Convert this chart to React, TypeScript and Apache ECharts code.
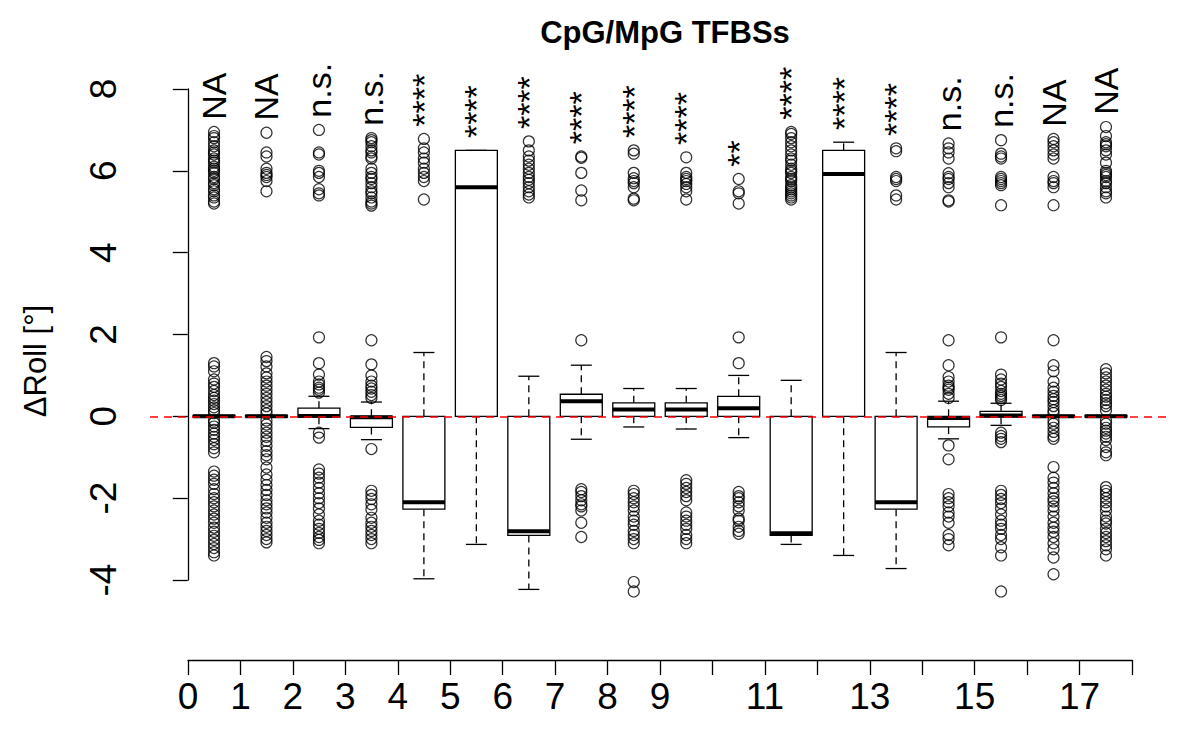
import React, { useEffect, useRef } from "react";
import * as echarts from "echarts";

// ---- data ----
const positions = [0.5, 1.5, 2.5, 3.5, 4.5, 5.5, 6.5, 7.5, 8.5, 9.5, 10.5, 11.5, 12.5, 13.5, 14.5, 15.5, 16.5, 17.5];
// [lower whisker, Q1, median, Q3, upper whisker]
const boxStats = [
  [-0.02, -0.02, 0, 0.02, 0.02],
  [-0.02, -0.02, 0, 0.02, 0.02],
  [-0.3, -0.02, 0.01, 0.2, 0.49],
  [-0.57, -0.27, -0.02, 0, 0.35],
  [-3.97, -2.27, -2.1, 0, 1.56],
  [-3.13, 0, 5.6, 6.5, 6.5],
  [-4.23, -2.91, -2.81, 0, 0.98],
  [-0.56, 0, 0.37, 0.54, 1.25],
  [-0.26, 0, 0.17, 0.33, 0.68],
  [-0.31, 0, 0.17, 0.33, 0.68],
  [-0.52, 0, 0.2, 0.49, 1.0],
  [-3.13, -2.91, -2.86, 0, 0.88],
  [-3.4, 0, 5.92, 6.5, 6.7],
  [-3.72, -2.27, -2.1, 0, 1.56],
  [-0.55, -0.26, -0.04, 0, 0.37],
  [-0.22, -0.02, 0.02, 0.12, 0.32],
  [-0.02, -0.02, 0, 0.02, 0.02],
  [-0.02, -0.02, 0, 0.02, 0.02],
];
const outliers = [
  [6.95, 6.85, 6.8, 6.7, 6.6, 6.5, 6.45, 6.4, 6.3, 6.25, 6.2, 6.1, 6.05, 6.0, 5.95, 5.85, 5.8, 5.7, 5.65, 5.55, 5.5, 5.4, 5.35, 5.25, 5.2,
    1.3, 1.22, 1.1, 0.9, 0.8, 0.72, 0.62, 0.52, 0.45, 0.38, 0.3, 0.22, 0.15, 0.08, -0.1, -0.16, -0.25, -0.33, -0.42, -0.5, -0.58, -0.68, -0.78, -0.88,
    -1.35, -1.45, -1.55, -1.65, -1.78, -1.9, -2.0, -2.1, -2.2, -2.3, -2.4, -2.5, -2.6, -2.72, -2.82, -2.92, -3.02, -3.12, -3.22, -3.32, -3.4],
  [6.93, 6.45, 6.35, 6.05, 5.95, 5.9, 5.85, 5.75, 5.5,
    1.45, 1.35, 1.22, 1.05, 0.95, 0.85, 0.75, 0.65, 0.55, 0.45, 0.35, 0.25, 0.15, 0.07, -0.1, -0.2, -0.3, -0.4, -0.5, -0.6, -0.72, -0.85, -0.95, -1.05,
    -1.25, -1.42, -1.55, -1.68, -1.8, -1.92, -2.05, -2.15, -2.25, -2.35, -2.48, -2.6, -2.7, -2.8, -2.9, -3.0, -3.08],
  [7.0, 6.45, 6.4, 6.0, 5.95, 5.85, 5.55, 5.45, 5.4, 1.93, 1.3, 1.02, 0.85, 0.78, 0.7, 0.65, 0.58, -0.4, -0.52,
    -1.3, -1.4, -1.5, -1.62, -1.75, -1.88, -2.0, -2.12, -2.25, -2.4, -2.55, -2.65, -2.75, -2.85, -2.95, -3.02, -3.1],
  [6.8, 6.75, 6.7, 6.6, 6.5, 6.45, 6.35, 6.3, 6.05, 5.95, 5.85, 5.8, 5.7, 5.6, 5.5, 5.45, 5.35, 5.25, 5.2, 5.15,
    1.86, 1.27, 1.0, 0.85, 0.75, 0.68, 0.6, 0.52, 0.45, -0.8,
    -1.82, -1.92, -2.02, -2.15, -2.28, -2.48, -2.6, -2.7, -2.8, -2.9, -3.0, -3.1],
  [6.78, 6.55, 6.45, 6.3, 6.2, 6.05, 5.95, 5.85, 5.75, 5.3],
  [],
  [6.72, 6.5, 6.35, 6.25, 6.15, 6.05, 5.95, 5.85, 5.78, 5.7, 5.6, 5.5, 5.42, 5.35],
  [6.35, 6.32, 5.95, 5.52, 5.28, 1.86, -1.78, -1.85, -1.95, -2.05, -2.15, -2.2, -2.3, -2.6, -2.95],
  [6.5, 6.42, 5.95, 5.82, 5.75, 5.7, 5.6, 5.32, 5.28, -1.82, -1.9, -2.0, -2.1, -2.2, -2.3, -2.45, -2.55, -2.65, -2.8, -2.9, -3.0, -3.1, -4.05, -4.28],
  [6.33, 5.95, 5.85, 5.8, 5.75, 5.68, 5.6, 5.5, 5.3, -1.56, -1.65, -1.75, -1.85, -1.95, -2.05, -2.35, -2.45, -2.55, -2.65, -2.75, -2.9, -3.0, -3.1],
  [5.8, 5.5, 5.45, 5.2, 1.93, 1.3, -1.85, -1.95, -2.0, -2.1, -2.2, -2.3, -2.5, -2.55, -2.7, -2.8, -2.87],
  [6.95, 6.9, 6.8, 6.7, 6.6, 6.5, 6.4, 6.3, 6.25, 6.15, 6.05, 6.0, 5.95, 5.85, 5.8, 5.75, 5.65, 5.6, 5.55, 5.5, 5.45, 5.4, 5.35, 5.3],
  [],
  [6.55, 6.48, 5.85, 5.8, 5.75, 5.4, 5.3],
  [6.67, 6.55, 6.45, 6.3, 5.94, 5.85, 5.8, 5.7, 5.6, 5.28, 5.25, 1.86, 1.25, 0.96, 0.85, 0.75, 0.7, 0.65, 0.55, 0.45,
    -0.71, -1.05, -1.9, -2.0, -2.1, -2.2, -2.35, -2.45, -2.6, -2.9, -3.0, -3.15],
  [6.75, 6.42, 6.35, 6.3, 5.85, 5.8, 5.75, 5.7, 5.65, 5.16, 1.93, 1.02, 0.9, 0.8, 0.72, 0.62, 0.55, 0.5, 0.45, 0.4,
    -0.4, -0.48, -0.55, -0.63, -1.82, -1.92, -2.02, -2.12, -2.25, -2.4, -2.55, -2.65, -2.75, -2.9, -3.0, -3.2, -3.4, -4.28],
  [6.78, 6.7, 6.6, 6.5, 6.4, 6.3, 5.85, 5.75, 5.7, 5.6, 5.16, 1.86, 1.25, 1.1, 0.85, 0.7, 0.6, 0.5, 0.42, 0.35, 0.25, 0.15, 0.08,
    -0.1, -0.18, -0.28, -0.38, -0.48, -0.55, -1.24, -1.5, -1.62, -1.75, -1.88, -2.0, -2.08, -2.2, -2.3, -2.45, -2.6, -2.72, -2.82, -2.95, -3.1, -3.25, -3.45, -3.86],
  [7.07, 6.85, 6.7, 6.65, 6.6, 6.5, 6.4, 6.2, 6.0, 5.95, 5.9, 5.85, 5.75, 5.7, 5.6, 5.5, 5.45, 5.35,
    1.15, 1.05, 0.95, 0.85, 0.75, 0.65, 0.55, 0.48, 0.4, 0.32, 0.25, 0.15, -0.1, -0.18, -0.28, -0.35, -0.42, -0.5, -0.58, -0.75, -0.88, -0.95,
    -1.73, -1.82, -1.9, -2.0, -2.1, -2.2, -2.3, -2.45, -2.55, -2.62, -2.75, -2.85, -2.95, -3.05, -3.15, -3.25, -3.4],
];
const significance = ["NA", "NA", "n.s.", "n.s.", "****", "****", "****", "****", "****", "****", "**", "****", "****", "****", "n.s.", "n.s.", "NA", "NA"];
const xTicks = [0, 1, 2, 3, 4, 5, 6, 7, 8, 9, 10, 11, 12, 13, 14, 15, 16, 17, 18];
const xTickLabels = ["0", "1", "2", "3", "4", "5", "6", "7", "8", "9", "", "11", "", "13", "", "15", "", "17", ""];
const yTicks = [-4, -2, 0, 2, 4, 6, 8];
const titleText = "CpG/MpG TFBSs";
const yLabelText = "ΔRoll [°]";

const FONT = "'Liberation Sans', Arial, Helvetica, sans-serif";

export default function App() {
  const ref = useRef<HTMLDivElement>(null);
  useEffect(() => {
    if (!ref.current) return;
    const chart = echarts.init(ref.current, null, { renderer: "svg" });
    const xMin = xTicks[0];
    const xMax = xTicks[xTicks.length - 1];
    const pad = (xMax - xMin) * 0.04;

    const boxData = positions.map((p, i) => [p, ...boxStats[i]]);
    const outlierData: number[][] = [];
    positions.forEach((p, i) => outliers[i].forEach((v) => outlierData.push([p, v])));
    const labelData = positions.map((p, i) => {
      const mx = Math.max(boxStats[i][4], ...(outliers[i].length ? outliers[i] : [-Infinity]));
      return [p, mx + 0.3, i];
    });

    const option: any = {
      animation: false,
      textStyle: { fontFamily: FONT, color: "#000" },
      title: {
        text: titleText,
        left: 660,
        top: 12,
        textAlign: "center",
        textStyle: { fontFamily: FONT, fontWeight: "bold", fontSize: 31, color: "#000" },
      },
      grid: [
        { left: 150, right: 30, top: 89, bottom: 170 },
        { left: 188, right: 68, top: 600, bottom: 90 },
      ],
      xAxis: [
        { type: "value", gridIndex: 0, min: xMin - pad, max: xMax + pad, show: false },
        {
          type: "value",
          gridIndex: 1,
          min: xMin,
          max: xMax,
          interval: 1,
          position: "bottom",
          axisLine: { show: true, onZero: false, lineStyle: { color: "#000", width: 1.3 } },
          axisTick: { show: true, length: 15, lineStyle: { color: "#000", width: 1.3 } },
          axisLabel: {
            show: true,
            margin: 18,
            fontSize: 37,
            color: "#000",
            fontFamily: FONT,
            formatter: (v: number) => {
              const idx = xTicks.indexOf(Math.round(v));
              return idx >= 0 ? xTickLabels[idx] : "";
            },
          },
          splitLine: { show: false },
        },
      ],
      yAxis: [
        {
          type: "value",
          gridIndex: 0,
          min: yTicks[0],
          max: yTicks[yTicks.length - 1],
          interval: yTicks[1] - yTicks[0],
          axisLine: { show: true, lineStyle: { color: "#000", width: 1.3 } },
          axisTick: { show: true, length: 15, lineStyle: { color: "#000", width: 1.3 } },
          axisLabel: { show: true, rotate: 90, margin: 28, fontSize: 37, color: "#000", fontFamily: FONT },
          splitLine: { show: false },
        },
        { type: "value", gridIndex: 1, min: 0, max: 1, show: false },
      ],
      series: [
        {
          type: "custom",
          xAxisIndex: 0,
          yAxisIndex: 0,
          z: 2,
          clip: false,
          data: boxData,
          renderItem: (params: any, api: any) => {
            const x = api.value(0);
            const lw = api.value(1);
            const q1 = api.value(2);
            const med = api.value(3);
            const q3 = api.value(4);
            const hw = api.value(5);
            const w = api.size([0.8, 0])[0];
            const half = w / 2;
            const cap = w / 4;
            const c = api.coord([x, 0])[0];
            const yLw = api.coord([x, lw])[1];
            const yQ1 = api.coord([x, q1])[1];
            const yMed = api.coord([x, med])[1];
            const yQ3 = api.coord([x, q3])[1];
            const yHw = api.coord([x, hw])[1];
            const dash = { stroke: "#000", lineWidth: 1.3, lineDash: [7, 5] };
            const solid = { stroke: "#000", lineWidth: 1.3 };
            const children: any[] = [];
            if (hw > q3) children.push({ type: "line", shape: { x1: c, y1: yQ3, x2: c, y2: yHw }, style: dash });
            if (lw < q1) children.push({ type: "line", shape: { x1: c, y1: yQ1, x2: c, y2: yLw }, style: dash });
            children.push({ type: "line", shape: { x1: c - cap, y1: yHw, x2: c + cap, y2: yHw }, style: solid });
            children.push({ type: "line", shape: { x1: c - cap, y1: yLw, x2: c + cap, y2: yLw }, style: solid });
            children.push({
              type: "rect",
              shape: { x: c - half, y: Math.min(yQ1, yQ3), width: w, height: Math.abs(yQ1 - yQ3) },
              style: { fill: "#fff", stroke: "#000", lineWidth: 1.3 },
            });
            children.push({ type: "line", shape: { x1: c - half, y1: yMed, x2: c + half, y2: yMed }, style: { stroke: "#000", lineWidth: 4 } });
            return { type: "group", children };
          },
        },
        {
          type: "scatter",
          xAxisIndex: 0,
          yAxisIndex: 0,
          z: 3,
          clip: false,
          symbol: "circle",
          symbolSize: 11,
          itemStyle: { color: "rgba(0,0,0,0)", borderColor: "#000", borderWidth: 1.2 },
          data: outlierData,
          markLine: {
            silent: true,
            symbol: ["none", "none"],
            label: { show: false },
            lineStyle: { color: "#ff0000", type: [8, 6], width: 1.5 },
            data: [{ yAxis: 0 }],
            z: 5,
          },
        },
        {
          type: "custom",
          xAxisIndex: 0,
          yAxisIndex: 0,
          z: 4,
          clip: false,
          data: labelData,
          renderItem: (params: any, api: any) => {
            const pt = api.coord([api.value(0), api.value(1)]);
            const idx = api.value(2);
            return {
              type: "text",
              x: pt[0],
              y: pt[1],
              rotation: Math.PI / 2,
              style: {
                text: significance[idx],
                fontSize: 34,
                fontFamily: FONT,
                fill: "#000",
                align: "left",
                verticalAlign: "middle",
              },
            };
          },
        },
      ],
      graphic: [
        {
          type: "text",
          x: 35,
          y: 361,
          rotation: Math.PI / 2,
          style: {
            text: yLabelText,
            fontSize: 31,
            fontFamily: FONT,
            fill: "#000",
            align: "center",
            verticalAlign: "middle",
          },
        },
      ],
    };
    chart.setOption(option);
    return () => chart.dispose();
  }, []);
  return <div ref={ref} style={{ position: "fixed", left: 0, top: 0, width: 1200, height: 750, background: "#fff" }} />;
}
